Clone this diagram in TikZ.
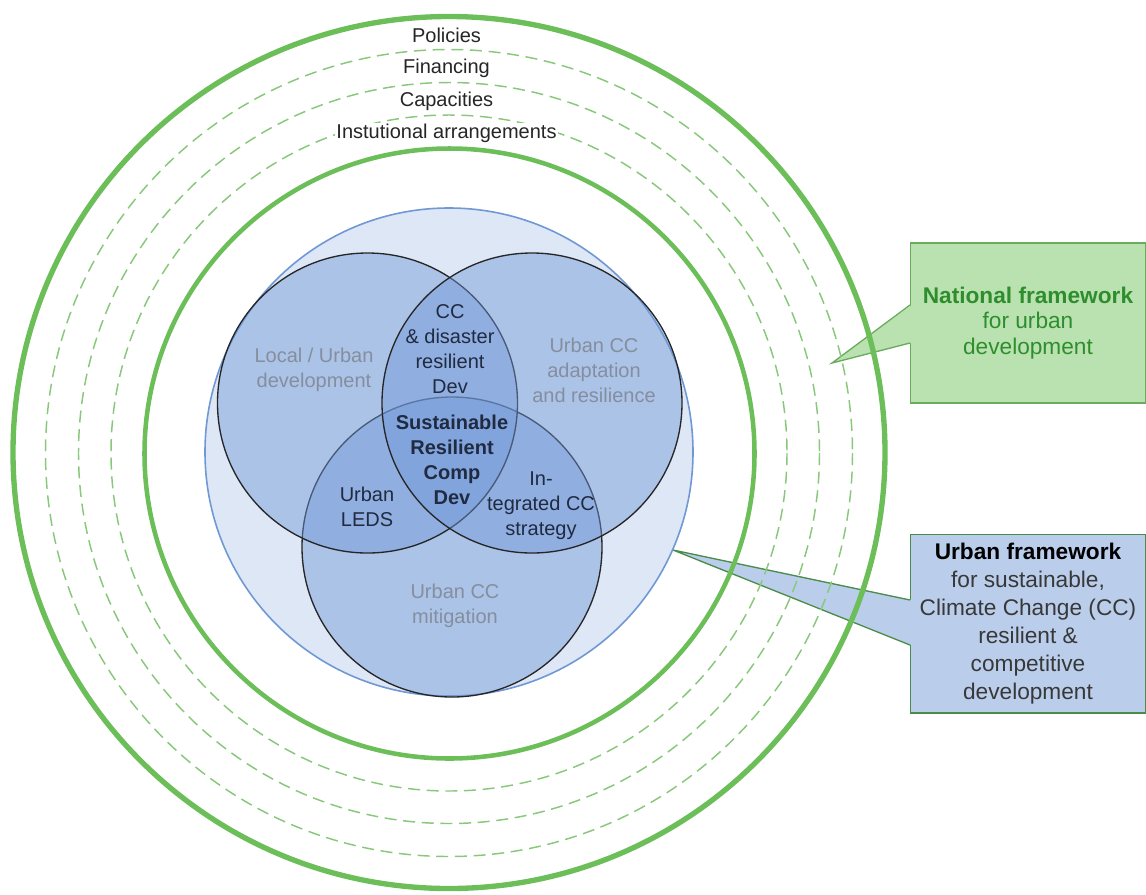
\documentclass[tikz,border=0pt]{standalone}
\usepackage{fontspec}
\setmainfont{Liberation Sans}
\usetikzlibrary{calc}

\definecolor{ringgreen}{RGB}{108,190,88}
\definecolor{dashgreen}{RGB}{135,200,122}
\definecolor{poolfill}{RGB}{222,231,246}
\definecolor{pooledge}{RGB}{112,152,212}
\definecolor{vennfill}{RGB}{112,152,216}
\definecolor{venntext}{RGB}{132,142,158}
\definecolor{lenstext}{RGB}{32,42,64}
\definecolor{natfill}{RGB}{186,226,176}
\definecolor{natedge}{RGB}{104,172,92}
\definecolor{nattext}{RGB}{46,142,46}
\definecolor{urbfill}{RGB}{186,206,236}
\definecolor{urbedge}{RGB}{74,140,74}

\begin{document}
\begin{tikzpicture}[x=0.75pt,y=0.75pt,yscale=-1,xscale=1,
  ringline/.style={draw=ringgreen,line width=3.4pt},
  ringdash/.style={draw=dashgreen,line width=1.1pt,dash pattern=on 9pt off 5pt},
  vennset/.style={draw=black!85,line width=1pt,fill=vennfill,fill opacity=0.45},
  ringlabel/.style={fill=white,inner sep=0.75pt,font=\fontsize{15}{18}\selectfont,text=black!85},
  vennlabel/.style={inner sep=0.75pt,align=center,font=\fontsize{15}{18.75}\selectfont,text=venntext},
  lenslabel/.style={vennlabel,text=lenstext},
  callbox/.style={rectangle,minimum width=176pt,align=center,inner sep=0pt,line width=1pt}
]
\useasboundingbox (0,0) rectangle (1146,894);

%Shape: Callout (national)
\node [callbox,fill=natfill,draw=natedge,minimum height=120pt,text=nattext,font=\fontsize{17}{19.1}\selectfont] (natbox) at (1028,323) {\textbf{National framework}\\for urban\\development};
\coordinate (natTip) at (832,363);
\fill [natfill] ($(natbox.west)+(1.5,-18)$) -- (natTip) -- ($(natbox.west)+(1.5,20)$) -- cycle ;
\draw [natedge,line width=1pt] ($(natbox.west)+(0,-18)$) -- (natTip) -- ($(natbox.west)+(0,20)$) ;

%Shape: Callout (urban)
\node [callbox,fill=urbfill,draw=urbedge,minimum height=134pt,text=black!78,font=\fontsize{17}{21}\selectfont] (urbbox) at (1028,623.5) {\textbf{\color{black}Urban framework}\\for sustainable,\\Climate Change (CC)\\resilient \&\\competitive\\development};
\coordinate (urbTip) at (673,550);
\fill [urbfill] ($(urbbox.west)+(1.5,-23.5)$) -- (urbTip) -- ($(urbbox.west)+(1.5,21.5)$) -- cycle ;
\draw [urbedge,line width=1pt] ($(urbbox.west)+(0,-23.5)$) -- (urbTip) -- ($(urbbox.west)+(0,21.5)$) ;

%Shape: Circle (rings)
\draw [ringline,line width=4pt] (449,452.5) circle [radius=436] ;
\draw [ringdash] (449,453) circle [radius=403.5] ;
\draw [ringdash] (449,453) circle [radius=370.5] ;
\draw [ringdash] (449,453) circle [radius=338] ;
\draw [ringline] (449.5,453.5) circle [radius=305] ;

%Shape: Circle (urban pool)
\draw [pooledge,fill=poolfill,line width=1.2pt] (449,452) circle [radius=244] ;

%Shape: Circle (venn)
\draw [vennset] (452,547) circle [radius=150] ;
\draw [vennset] (367.5,403) circle [radius=150] ;
\draw [vennset] (532,403) circle [radius=150] ;

% Text Node
\node [ringlabel] (policies) at (446.5,35) {Policies};
% Text Node
\node [ringlabel] (financing) at (446.5,68) {Financing};
% Text Node
\node [ringlabel] (capacities) at (446.5,101) {Capacities};
% Text Node
\node [ringlabel] (institutions) at (446.5,133) {Instutional arrangements};

% Text Node
\node [vennlabel] (localdev) at (314,370) {Local / Urban\\development};
% Text Node
\node [vennlabel] (adaptation) at (594,370) {Urban CC\\adaptation\\and resilience};
% Text Node
\node [vennlabel] (mitigation) at (455,606) {Urban CC\\mitigation};
% Text Node
\node [lenslabel] (disaster) at (450,349) {CC\\\& disaster\\resilient\\Dev};
% Text Node
\node [lenslabel] (leds) at (367,507) {Urban\\LEDS};
% Text Node
\node [lenslabel] (strategy) at (541,506) {In-\\tegrated CC\\strategy};
% Text Node
\node [lenslabel,font=\fontsize{15}{18.75}\selectfont\bfseries] (core) at (452,460) {Sustainable\\Resilient\\Comp\\Dev};

\end{tikzpicture}
\end{document}
